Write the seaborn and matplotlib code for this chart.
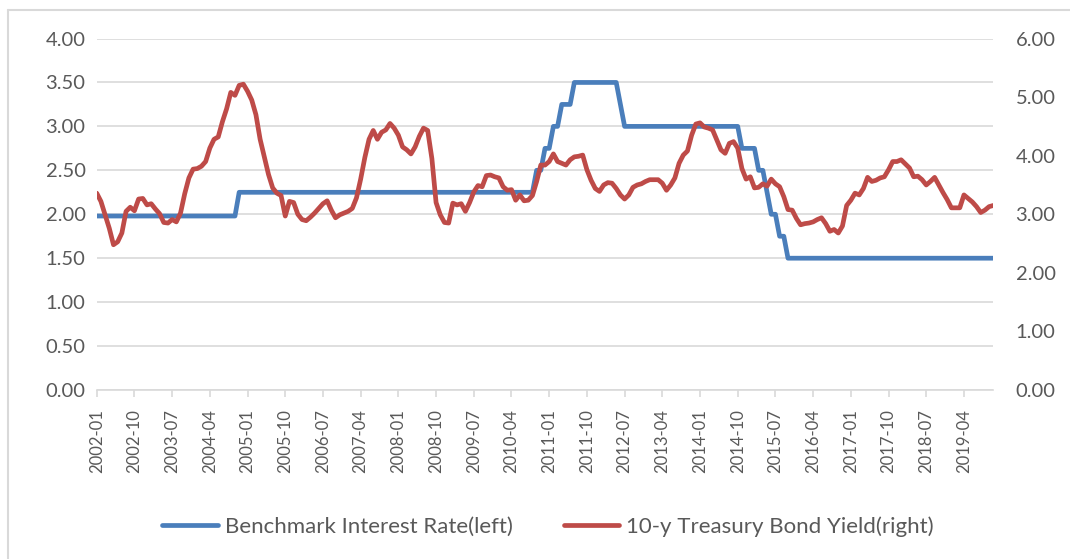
import numpy as np
import pandas as pd
import matplotlib
matplotlib.use('Agg')
import matplotlib.pyplot as plt
import seaborn as sns
from matplotlib.lines import Line2D

# Meses de la serie (datos mensuales de 2002-01 a 2019-11)
mes_inicio = '2002-01'
mes_fin = '2019-11'

# Tipo de interés de referencia: meses en los que cambia y nuevo nivel (eje izquierdo)
cambios_mes = ['2002-01', '2004-11', '2010-10', '2010-12', '2011-02', '2011-04',
               '2011-07', '2012-06', '2012-07', '2014-11', '2015-03', '2015-05',
               '2015-06', '2015-08', '2015-10']
cambios_tipo = [1.98, 2.25, 2.50, 2.75, 3.00, 3.25,
                3.50, 3.25, 3.00, 2.75, 2.50, 2.25,
                2.00, 1.75, 1.50]

# Rentabilidad del bono a 10 años (eje derecho)
rentabilidad_10y = [
    3.36, 3.22, 2.99, 2.76, 2.48, 2.53, 2.68, 3.05, 3.12, 3.06,
    3.26, 3.27, 3.16, 3.18, 3.09, 3.01, 2.86, 2.85, 2.91, 2.87,
    3.02, 3.35, 3.62, 3.77, 3.78, 3.82, 3.90, 4.13, 4.28, 4.32,
    4.58, 4.80, 5.08, 5.03, 5.20, 5.22, 5.10, 4.95, 4.70, 4.28,
    3.98, 3.68, 3.45, 3.36, 3.32, 2.97, 3.22, 3.20, 3.00, 2.91,
    2.89, 2.95, 3.02, 3.10, 3.18, 3.23, 3.07, 2.94, 2.99, 3.02,
    3.05, 3.10, 3.28, 3.60, 3.97, 4.28, 4.43, 4.28, 4.40, 4.44,
    4.55, 4.47, 4.35, 4.15, 4.10, 4.03, 4.15, 4.33, 4.47, 4.43,
    3.95, 3.20, 2.99, 2.86, 2.85, 3.19, 3.16, 3.18, 3.05, 3.20,
    3.38, 3.49, 3.47, 3.66, 3.67, 3.64, 3.62, 3.47, 3.41, 3.42,
    3.24, 3.33, 3.23, 3.24, 3.32, 3.56, 3.84, 3.84, 3.90, 4.03,
    3.90, 3.87, 3.84, 3.93, 3.98, 3.99, 4.01, 3.76, 3.58, 3.44,
    3.39, 3.50, 3.54, 3.53, 3.44, 3.33, 3.26, 3.33, 3.46, 3.50,
    3.52, 3.56, 3.59, 3.59, 3.59, 3.53, 3.41, 3.50, 3.62, 3.87,
    4.01, 4.08, 4.35, 4.54, 4.56, 4.49, 4.47, 4.44, 4.27, 4.10,
    4.04, 4.21, 4.24, 4.13, 3.78, 3.60, 3.64, 3.45, 3.46, 3.52,
    3.48, 3.60, 3.52, 3.47, 3.30, 3.08, 3.07, 2.93, 2.82, 2.84,
    2.85, 2.87, 2.91, 2.94, 2.84, 2.71, 2.74, 2.68, 2.80, 3.15,
    3.24, 3.36, 3.33, 3.44, 3.63, 3.56, 3.58, 3.62, 3.64, 3.76,
    3.90, 3.90, 3.93, 3.86, 3.79, 3.64, 3.65, 3.59, 3.50, 3.56,
    3.63, 3.50, 3.37, 3.25, 3.11, 3.11, 3.11, 3.33, 3.27, 3.21,
    3.13, 3.03, 3.07, 3.13, 3.15,
]

nombre_tipo = 'Benchmark Interest Rate(left)'
nombre_bono = '10-y Treasury Bond Yield(right)'

azul = '#4a7ebb'
rojo = '#be4b48'
gris_texto = '#595959'
gris_linea = '#d9d9d9'

# Construyo el DataFrame mensual
meses = pd.period_range(mes_inicio, mes_fin, freq='M').strftime('%Y-%m')
tipo = pd.Series(cambios_tipo, index=cambios_mes).reindex(meses).ffill()
df = pd.DataFrame({'mes': meses, 'pos': np.arange(len(meses)),
                   'tipo': tipo.values, 'bono': rentabilidad_10y})

sns.set_style('white')
plt.rcParams['font.family'] = ['Lato', 'DejaVu Sans']

fig = plt.figure(figsize=(10.7, 5.59), dpi=100)
ax = fig.add_axes([0.0904, 0.3023, 0.8379, 0.6288])
ax2 = ax.twinx()

sns.lineplot(data=df, x='pos', y='tipo', ax=ax, color=azul, lw=3.4, legend=False)
sns.lineplot(data=df, x='pos', y='bono', ax=ax2, color=rojo, lw=3.4, legend=False)

# Eje izquierdo
ax.set_ylim(0, 4)
ax.set_yticks(np.arange(0, 4.01, 0.5))
ax.yaxis.set_major_formatter(matplotlib.ticker.FormatStrFormatter('%.2f'))
ax.grid(axis='y', color=gris_linea, lw=1.2)
ax.set_axisbelow(True)

# Eje derecho
ax2.set_ylim(0, 6)
ax2.set_yticks(np.arange(0, 6.01, 1))
ax2.yaxis.set_major_formatter(matplotlib.ticker.FormatStrFormatter('%.2f'))
ax2.grid(False)

# Eje X: una etiqueta cada 9 meses
ax.set_xlim(0, len(meses) - 1)
ax.set_xticks(df['pos'][::9])
ax.set_xticklabels(df['mes'][::9], rotation=90)

for a in (ax, ax2):
    for s in a.spines.values():
        s.set_visible(False)
    a.set_xlabel('')
    a.set_ylabel('')
ax.spines['bottom'].set_visible(True)
ax.spines['bottom'].set_color(gris_linea)
ax.spines['bottom'].set_linewidth(1.2)

ax.tick_params(axis='y', length=0, pad=8, labelsize=14.5, labelcolor=gris_texto)
ax2.tick_params(axis='y', length=0, pad=16, labelsize=14.5, labelcolor=gris_texto)
ax.tick_params(axis='x', direction='out', length=5, width=1.2, color=gris_linea,
               pad=9, labelsize=12, labelcolor=gris_texto, bottom=True)

# Leyenda en la parte inferior
manejadores = [Line2D([], [], color=azul, lw=3.4, solid_capstyle='round'),
               Line2D([], [], color=rojo, lw=3.4, solid_capstyle='round')]
fig.legend(manejadores, [nombre_tipo, nombre_bono], loc='center',
           bbox_to_anchor=(0.512, 0.058), ncol=2, frameon=False, fontsize=16,
           handlelength=2.5, handletextpad=0.3, columnspacing=2.3,
           labelcolor=gris_texto)

# Borde del área del gráfico (arriba e izquierda)
fig.add_artist(Line2D([8 / 1070, 8 / 1070], [0, 1 - 10 / 559],
                      transform=fig.transFigure, color=gris_linea, lw=1.5))
fig.add_artist(Line2D([8 / 1070, 1], [1 - 10 / 559, 1 - 10 / 559],
                      transform=fig.transFigure, color=gris_linea, lw=1.5))

fig.savefig('out.png', dpi=100)
plt.close(fig)
